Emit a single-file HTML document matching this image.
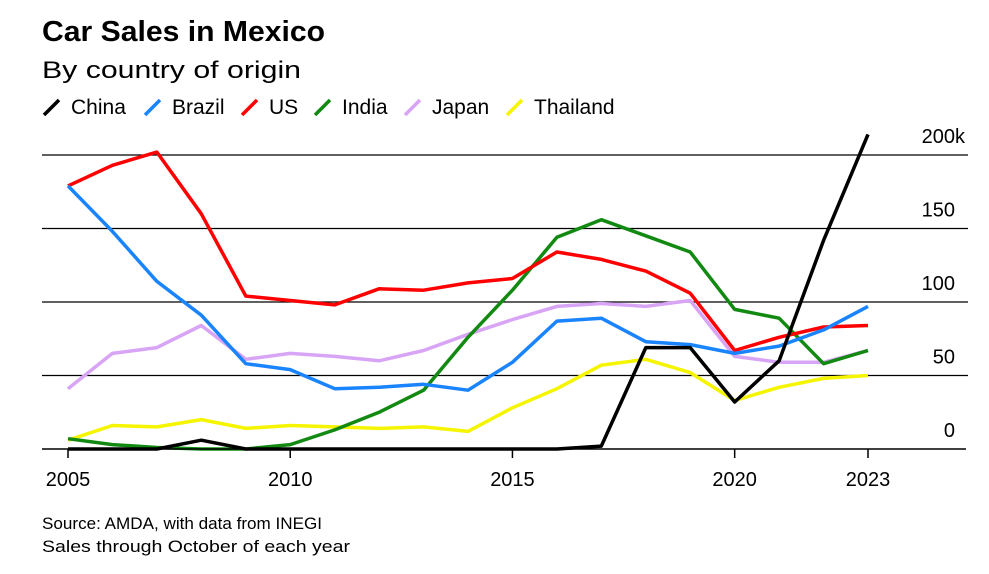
<!DOCTYPE html>
<html><head><meta charset="utf-8"><style>
body{margin:0;background:#fff;width:989px;height:569px;overflow:hidden;font-family:"Liberation Sans",Arial,sans-serif}
</style></head><body>
<svg id="c" width="989" height="569" xmlns="http://www.w3.org/2000/svg">
<text x="42" y="41" font-size="29" font-weight="bold" fill="#000" textLength="283" lengthAdjust="spacingAndGlyphs">Car Sales in Mexico</text>
<text x="42" y="78" font-size="24" fill="#000" textLength="259" lengthAdjust="spacingAndGlyphs">By country of origin</text>
<g id="legend"></g>
<g id="grid"></g>
<g id="series"></g>
<g id="xaxis"></g>
<text x="42" y="529" font-size="17" fill="#000" textLength="280" lengthAdjust="spacingAndGlyphs">Source: AMDA, with data from INEGI</text>
<text x="42" y="552" font-size="17" fill="#000" textLength="308" lengthAdjust="spacingAndGlyphs">Sales through October of each year</text>
</svg>
<script>
const years=[2005,2006,2007,2008,2009,2010,2011,2012,2013,2014,2015,2016,2017,2018,2019,2020,2021,2022,2023];
const seriesNames=["Thailand","Japan","India","US","Brazil","China"];
const legendOrder=["China","Brazil","US","India","Japan","Thailand"];
const china=[0,0,0,6,0,0,0,0,0,0,0,0,2,69,69,32,60,142,214];
const brazil=[179,148,114,91,58,54,41,42,44,40,59,87,89,73,71,65,70,81,97];
const us=[179,193,202,160,104,101,98,109,108,113,116,134,129,121,106,67,76,83,84];
const india=[7,3,1,0,0,3,13,25,40,76,108,144,156,145,134,95,89,58,67];
const japan=[41,65,69,84,61,65,63,60,67,78,88,97,99,97,101,63,59,59,67];
const thailand=[6,16,15,20,14,16,15,14,15,12,28,41,57,61,52,33,42,48,50];
const yTicks=[0,50,100,150,200];
const yTickLabels=["0","50","100","150","200"];
const xTicks=[2005,2010,2015,2020,2023];
const data={China:china,Brazil:brazil,US:us,India:india,Japan:japan,Thailand:thailand};
const colors={China:"#000000",Brazil:"#1a84ff",US:"#ff0000",India:"#128a12",Japan:"#d8a4f5",Thailand:"#f5f500"};
const legendX=[44,145,242,315,405,507];
const X=y=>68+(y-2005)*(868-68)/18;
const Y=v=>449-v*(449-155)/200;
const NS="http://www.w3.org/2000/svg";
function mk(tag,attrs,parent){const e=document.createElementNS(NS,tag);for(const k in attrs)e.setAttribute(k,attrs[k]);parent.appendChild(e);return e;}
const grid=document.getElementById('grid');
yTicks.forEach((t,i)=>{
  if(t>0){const l=mk('line',{x1:42,x2:968,y1:Y(t),y2:Y(t),stroke:'#000','stroke-width':1.2},grid);
  
  }
  const tx=mk('text',{x:955,y:Y(t)-12,'font-size':20,'text-anchor':'end',fill:'#000'},grid);
  tx.textContent=yTickLabels[i];
  
  
  if(i===yTicks.length-1){
    const k=mk('text',{x:955,y:Y(t)-12,'font-size':20,fill:'#000'},grid);
    k.textContent='k';
    
    
  }
});
const xa=document.getElementById('xaxis');
const base=mk('line',{x1:42,x2:966,y1:449,y2:449,stroke:'#000','stroke-width':1.5},xa);


xTicks.forEach(t=>{
  const tk=mk('line',{x1:X(t),x2:X(t),y1:449,y2:458,stroke:'#000','stroke-width':1.5},xa);
  
  
  const tx=mk('text',{x:X(t),y:486,'font-size':20,'text-anchor':'middle',fill:'#000'},xa);
  tx.textContent=t;
  
  
});
const sg=document.getElementById('series');
seriesNames.forEach(n=>{
  const pts=data[n].map((v,i)=>X(years[i]).toFixed(1)+','+Y(v).toFixed(1)).join(' ');
  const p=mk('polyline',{points:pts,fill:'none',stroke:colors[n],'stroke-width':3.5,'stroke-linejoin':'round'},sg);
  
  
});
const lg=document.getElementById('legend');
legendOrder.forEach((n,i)=>{
  const lx=legendX[i];
  const g=mk('g',{},lg);
  
  
  mk('line',{x1:lx,y1:115,x2:lx+15,y2:100,stroke:colors[n],'stroke-width':3.5},g);
  const t=mk('text',{x:lx+27,y:114,'font-size':21,fill:'#000'},g);
  t.textContent=n;
});
</script>
</body></html>
